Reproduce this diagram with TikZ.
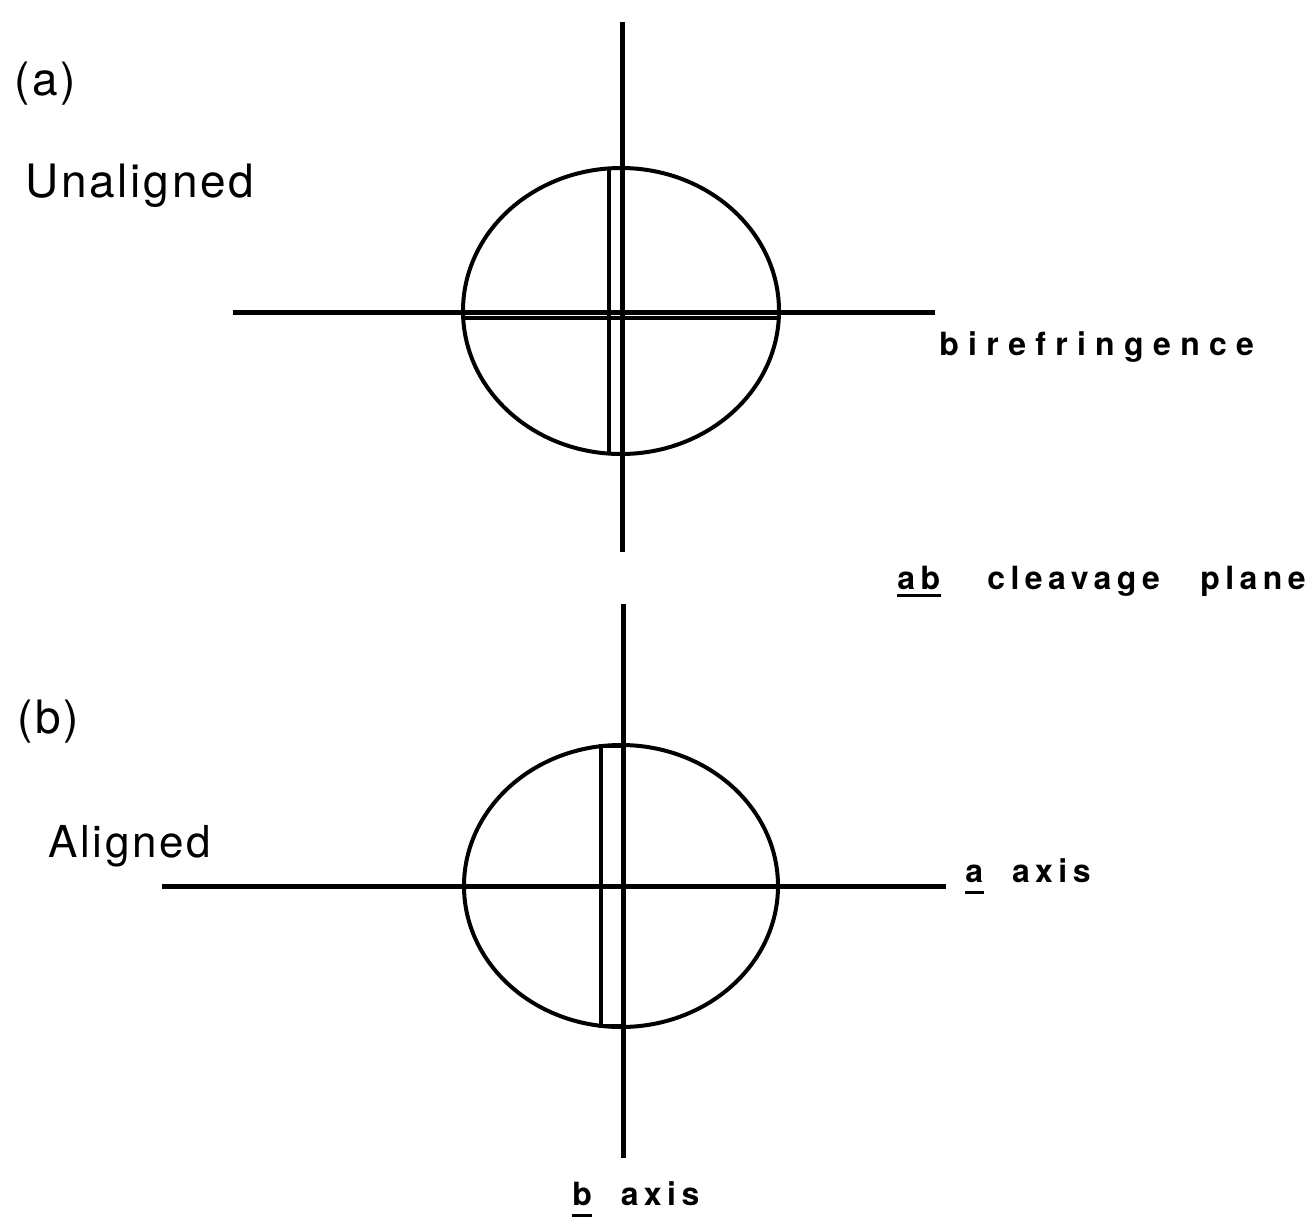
\documentclass[tikz,border=0pt]{standalone}
\usepackage{fontspec}
\setmainfont{TeX Gyre Heros}
\newfontfamily\headfont[LetterSpace=6]{TeX Gyre Heros}
\newfontfamily\widefont[LetterSpace=29]{TeX Gyre Heros}
\newfontfamily\spacedfont[LetterSpace=17]{TeX Gyre Heros}
\usetikzlibrary{positioning}

\begin{document}
\begin{tikzpicture}[
        x=0.5pt, y=-0.5pt,
        axisline/.style={line width=2.5pt},
        thinline/.style={line width=2pt},
        uline/.style={line width=1.5pt},
        head/.style={font=\headfont\fontsize{23}{26}\selectfont, inner sep=0pt},
        tag/.style={font=\spacedfont\bfseries\fontsize{16}{18}\selectfont, inner sep=0pt},
        widetag/.style={font=\widefont\bfseries\fontsize{16}{18}\selectfont, inner sep=0pt}
    ]
        \useasboundingbox (0,0) rectangle (1313,1217);

        % (a) unaligned
        \coordinate (atop) at (622,22);
        \coordinate (abot) at (622,552);
        \coordinate (aleft) at (233,312);
        \coordinate (aright) at (935,312);
        \draw[thinline] (621,311) ellipse [x radius=158, y radius=143];
        \draw[axisline] (atop) -- (abot);
        \draw[axisline] (aleft) -- (aright);
        \draw[thinline] (609,169) -- (609,453);
        \draw[thinline] (465,318) -- (778,318);

        % (b) aligned
        \coordinate (btop) at (623,604);
        \coordinate (bbot) at (623,1158);
        \coordinate (bleft) at (162,886);
        \coordinate (bright) at (946,886);
        \draw[thinline] (621,886) ellipse [x radius=157, y radius=141];
        \draw[axisline] (btop) -- (bbot);
        \draw[axisline] (bleft) -- (bright);
        \draw[thinline] (601,746) rectangle (623,1026);

        % labels
        \node[head, anchor=base west] (taga) at (14,95) {(a)};
        \node[head, anchor=base west] (unal) at (25,197) {Unaligned};
        \node[head, anchor=base west] (tagb) at (17,733) {(b)};
        \node[head, anchor=base west, font=\headfont\fontsize{22}{26}\selectfont] (alig) at (48,857) {Aligned};

        \node[widetag, anchor=base west] (biref) at (939,355) {birefringence};
        \node[tag, anchor=base west] (abund) at (897,589) {ab};
        \node[tag, anchor=base west] (cleave) at (987,589) {cleavage};
        \node[tag, anchor=base west] (plane) at (1200,589) {plane};
        \draw[uline] ([yshift=-3pt]abund.base west) -- ([yshift=-3pt]abund.base east);

        \node[tag, anchor=base west] (aund) at (965,882) {a};
        \node[tag, base right=14pt of aund] (aaxis) {axis};
        \draw[uline] ([yshift=-5pt]aund.base west) -- ([yshift=-5pt]aund.base east);

        \node[tag, anchor=base west] (bund) at (572,1205) {b};
        \node[tag, base right=14pt of bund] (baxis) {axis};
        \draw[uline] ([yshift=-5pt]bund.base west) -- ([yshift=-5pt]bund.base east);
    \end{tikzpicture}
\end{document}
